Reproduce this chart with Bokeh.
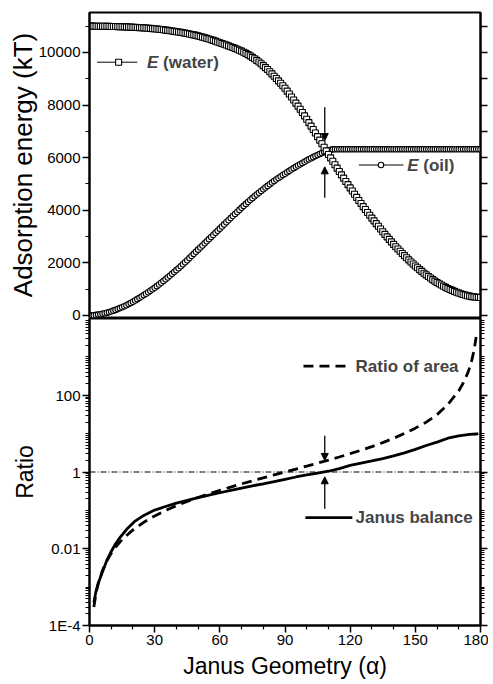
from bokeh.plotting import figure
from bokeh.layouts import column
from bokeh.models import (Range1d, FixedTicker, LinearAxis, LogAxis, Arrow, NormalHead,
                          Label, Span, CustomJSTickFormatter)
from bokeh.embed import file_html
from bokeh.resources import INLINE

FONT = "Liberation Sans"

# ---------------- data ----------------
alpha_energy = list(range(0, 181))
e_water = [11000, 11000, 11000, 10999, 10998, 10998, 10997, 10996, 10994, 10992,
           10990, 10988, 10985, 10983, 10980, 10978, 10975, 10972, 10968, 10964,
           10960, 10955, 10950, 10945, 10940, 10934, 10928, 10922, 10915, 10908,
           10900, 10891, 10882, 10872, 10862, 10851, 10840, 10828, 10816, 10803,
           10790, 10777, 10763, 10749, 10735, 10719, 10703, 10686, 10668, 10649,
           10630, 10608, 10585, 10560, 10535, 10510, 10485, 10458, 10430, 10400,
           10370, 10343, 10315, 10283, 10250, 10220, 10190, 10155, 10120, 10085,
           10050, 10008, 9965, 9918, 9870, 9815, 9760, 9698, 9635, 9568,
           9500, 9425, 9350, 9268, 9185, 9098, 9010, 8920, 8830, 8735,
           8640, 8530, 8420, 8305, 8190, 8075, 7960, 7838, 7715, 7588,
           7460, 7330, 7200, 7068, 6935, 6800, 6665, 6530, 6395, 6258,
           6120, 5990, 5860, 5730, 5600, 5473, 5345, 5220, 5095, 4973,
           4850, 4730, 4610, 4490, 4370, 4253, 4135, 4025, 3915, 3808,
           3700, 3595, 3490, 3388, 3285, 3183, 3080, 2985, 2890, 2795,
           2700, 2613, 2525, 2440, 2355, 2273, 2190, 2110, 2030, 1955,
           1880, 1810, 1740, 1673, 1605, 1543, 1480, 1420, 1360, 1305,
           1250, 1203, 1155, 1110, 1065, 1025, 985, 950, 915, 883,
           850, 823, 795, 773, 750, 733, 715, 703, 690, 685,
           680]
e_oil = [0, 2, 8, 18, 30, 45, 62, 80, 100, 124,
         150, 180, 210, 242, 275, 311, 348, 388, 430, 474,
         520, 568, 617, 667, 718, 771, 825, 880, 935, 992,
         1050, 1112, 1175, 1240, 1305, 1372, 1440, 1510, 1580, 1650,
         1720, 1795, 1870, 1946, 2022, 2100, 2180, 2260, 2340, 2420,
         2500, 2580, 2660, 2740, 2820, 2900, 2980, 3060, 3140, 3220,
         3300, 3380, 3460, 3540, 3620, 3700, 3780, 3858, 3935, 4013,
         4090, 4165, 4240, 4315, 4390, 4460, 4530, 4598, 4665, 4733,
         4800, 4863, 4925, 4988, 5050, 5110, 5170, 5228, 5285, 5338,
         5390, 5443, 5495, 5548, 5600, 5650, 5700, 5748, 5795, 5843,
         5890, 5933, 5975, 6018, 6060, 6100, 6140, 6178, 6215, 6248,
         6280, 6300, 6315, 6319, 6320, 6320, 6320, 6320, 6320, 6320,
         6320, 6320, 6320, 6320, 6320, 6320, 6320, 6320, 6320, 6320,
         6320, 6320, 6320, 6320, 6320, 6320, 6320, 6320, 6320, 6320,
         6320, 6320, 6320, 6320, 6320, 6320, 6320, 6320, 6320, 6320,
         6320, 6320, 6320, 6320, 6320, 6320, 6320, 6320, 6320, 6320,
         6320, 6320, 6320, 6320, 6320, 6320, 6320, 6320, 6320, 6320,
         6320, 6320, 6320, 6320, 6320, 6320, 6320, 6320, 6320, 6320,
         6320]

alpha_balance = [2, 3, 4, 6, 8, 10, 12, 14, 17, 21, 25, 30, 35, 40, 45, 50, 55, 60,
                 65, 70, 75, 80, 85, 90, 95, 100, 105, 110, 115, 120, 125, 130,
                 135, 140, 145, 150, 155, 160, 165, 170, 175, 178, 179]
janus_balance = [4.0e-4, 7.9e-4, 1.26e-3, 2.5e-3, 5.0e-3, 8.5e-3, 0.0135, 0.0195,
                 0.0316, 0.0525, 0.074, 0.102, 0.126, 0.155, 0.182, 0.214, 0.251,
                 0.288, 0.331, 0.38, 0.437, 0.49, 0.562, 0.646, 0.741, 0.841,
                 0.933, 1.047, 1.23, 1.48, 1.70, 1.95, 2.24, 2.63, 3.16, 3.89,
                 4.90, 6.03, 7.59, 8.71, 9.55, 9.77, 10.0]

alpha_area = [2, 3, 4, 6, 8, 10, 12, 15, 20, 25, 30, 35, 40, 45, 50, 55, 60, 65,
              70, 75, 80, 85, 90, 95, 100, 105, 110, 115, 120, 125, 130, 135, 140,
              145, 150, 155, 160, 165, 170, 172, 174, 175, 176, 177, 178]
area_ratio = [3.05e-4, 6.86e-4, 1.22e-3, 2.75e-3, 4.89e-3, 7.65e-3, 0.0110, 0.0173,
              0.0311, 0.0491, 0.0718, 0.0994, 0.132, 0.172, 0.217, 0.271, 0.333,
              0.405, 0.490, 0.589, 0.704, 0.840, 1.0, 1.19, 1.42, 1.70, 2.04,
              2.46, 3.0, 3.69, 4.59, 5.83, 7.55, 10.1, 13.9, 19.9, 31.2, 57.7,
              130.6, 205, 365, 525, 820, 1460, 3283]

x_ticks = [0, 30, 60, 90, 120, 150, 180]
energy_ticks = [0, 2000, 4000, 6000, 8000, 10000]
ratio_ticks = [1e-4, 1e-2, 1, 100]
ratio_tick_labels = {"-4": "1E-4", "-2": "0.01", "0": "1", "2": "100"}


def style_axis(ax, label_size="15px", title_size="23px"):
    ax.axis_line_width = 2
    ax.axis_line_color = "black"
    ax.major_tick_out = 7
    ax.major_tick_in = 0
    ax.minor_tick_out = 4
    ax.minor_tick_in = 0
    ax.major_tick_line_width = 1.5
    ax.minor_tick_line_width = 1.2
    ax.major_tick_line_color = "black"
    ax.minor_tick_line_color = "black"
    ax.major_label_text_font = FONT
    ax.major_label_text_font_size = label_size
    ax.major_label_text_color = "black"
    ax.major_label_standoff = 2
    ax.axis_label_text_font = FONT
    ax.axis_label_text_font_size = title_size
    ax.axis_label_text_font_style = "normal"
    ax.axis_label_text_color = "black"


def style_fig(p):
    p.xgrid.visible = False
    p.ygrid.visible = False
    p.outline_line_color = "black"
    p.outline_line_width = 2
    p.outline_line_alpha = 1
    p.background_fill_color = "white"
    p.border_fill_color = "white"


blank = CustomJSTickFormatter(code="return '';")

# ---------------- top panel ----------------
energy_minor = [v for v in range(-1000, 12000, 1000) if v not in energy_ticks]
p1 = figure(width=488, height=325, x_range=Range1d(0, 180), y_range=Range1d(-80, 11520),
            output_backend="svg", toolbar_location=None, x_axis_location=None,
            min_border_left=89, min_border_right=8, min_border_top=12, min_border_bottom=8)
style_fig(p1)
p1.yaxis.ticker = FixedTicker(ticks=energy_ticks, minor_ticks=energy_minor)
p1.yaxis.axis_label = "Adsorption energy (kT)"
style_axis(p1.yaxis[0], title_size="26px")
p1.yaxis.axis_label_standoff = -2
r1 = LinearAxis(ticker=FixedTicker(ticks=list(range(0, 12000, 1000)), minor_ticks=[]),
                formatter=blank)
style_axis(r1)
r1.major_label_standoff = 0
p1.add_layout(r1, "right")

p1.line(alpha_energy, e_oil, line_color="black", line_width=1)
p1.scatter(alpha_energy, e_oil, marker="circle", size=5.5, line_color="black",
           line_width=1.1, fill_color="white")
p1.line(alpha_energy, e_water, line_color="black", line_width=1)
p1.scatter(alpha_energy, e_water, marker="square", size=6, line_color="black",
           line_width=1.1, fill_color="white")

# legend E (water)
p1.segment(x0=[3.5], y0=[9630], x1=[22.0], y1=[9630], line_color="black", line_width=1)
p1.scatter([13.4], [9630], marker="square", size=6, line_color="black", fill_color="white", line_width=1.1)
p1.add_layout(Label(x=26.5, y=9630, text="E", text_font=FONT, text_font_size="17px",
                    text_font_style="bold italic", text_baseline="middle"))
p1.add_layout(Label(x=26.5, y=9630, x_offset=16, text="(water)", text_font=FONT,
                    text_font_size="17px", text_font_style="bold", text_baseline="middle"))
# legend E (oil)
p1.segment(x0=[124.0], y0=[5720], x1=[144.5], y1=[5720], line_color="black", line_width=1)
p1.scatter([134.2], [5720], marker="circle", size=5.5, line_color="black", fill_color="white", line_width=1.1)
p1.add_layout(Label(x=146.3, y=5720, text="E", text_font=FONT, text_font_size="17px",
                    text_font_style="bold italic", text_baseline="middle"))
p1.add_layout(Label(x=146.3, y=5720, x_offset=16, text="(oil)", text_font=FONT,
                    text_font_size="17px", text_font_style="bold", text_baseline="middle"))

head = dict(size=7, fill_color="black", line_color="black")
p1.add_layout(Arrow(x_start=108.3, y_start=7920, x_end=108.3, y_end=6650,
                    end=NormalHead(**head), line_width=1.3))
p1.add_layout(Arrow(x_start=108.3, y_start=4470, x_end=108.3, y_end=5650,
                    end=NormalHead(**head), line_width=1.3))

# ---------------- bottom panel ----------------
ratio_minor = []
for e in range(-4, 4):
    for k in range(1, 10):
        v = k * 10.0 ** e
        if k == 1 and e % 2 == 0:
            continue
        ratio_minor.append(v)
p2 = figure(width=488, height=366, x_range=p1.x_range, y_range=Range1d(1e-4, 1e4),
            y_axis_type="log", output_backend="svg", toolbar_location=None,
            min_border_left=89, min_border_right=8, min_border_top=1, min_border_bottom=58)
style_fig(p2)
p2.border_fill_alpha = 0
p2.styles = {"margin-top": "-8px"}
p2.yaxis.ticker = FixedTicker(ticks=ratio_ticks, minor_ticks=ratio_minor)
p2.yaxis.formatter = CustomJSTickFormatter(
    args=dict(m=ratio_tick_labels),
    code="const e = String(Math.round(Math.log10(tick))); return (e in m) ? m[e] : '';")
p2.yaxis.axis_label = "Ratio"
style_axis(p2.yaxis[0])
p2.yaxis.axis_label_standoff = 8
p2.xaxis.ticker = FixedTicker(ticks=x_ticks, minor_ticks=[v for v in range(10, 180, 10) if v % 30])
p2.xaxis.axis_label = "Janus Geometry (\u03b1)"
style_axis(p2.xaxis[0])
p2.xaxis.axis_label_standoff = 5
r2 = LogAxis(ticker=FixedTicker(ticks=ratio_ticks, minor_ticks=ratio_minor), formatter=blank)
style_axis(r2)
r2.major_label_standoff = 0
p2.add_layout(r2, "right")

p2.add_layout(Span(location=1, dimension="width", line_color="black", line_width=1.2,
                   line_dash="6 2 1 2"))
p2.line(alpha_area, area_ratio, line_color="black", line_width=2.8, line_dash="10 6")
p2.line(alpha_balance, janus_balance, line_color="black", line_width=2.8)

# legends
p2.segment(x0=[98.5], y0=[577], x1=[120.2], y1=[577], line_color="black", line_width=2.8,
           line_dash="10 6")
p2.add_layout(Label(x=122.5, y=577, text="Ratio of area", text_font=FONT, text_font_size="17px",
                    text_font_style="bold", text_baseline="middle"))
p2.segment(x0=[99.4], y0=[0.065], x1=[121.0], y1=[0.065], line_color="black", line_width=2.8)
p2.add_layout(Label(x=122.5, y=0.065, text="Janus balance", text_font=FONT, text_font_size="17px",
                    text_font_style="bold", text_baseline="middle"))

p2.add_layout(Arrow(x_start=108.3, y_start=8.8, x_end=108.3, y_end=2.0,
                    end=NormalHead(**head), line_width=1.3))
p2.add_layout(Arrow(x_start=108.3, y_start=0.11, x_end=108.3, y_end=0.75,
                    end=NormalHead(**head), line_width=1.3))

layout = column(p1, p2, spacing=0)
open("out.html", "w").write(file_html(layout, INLINE))
